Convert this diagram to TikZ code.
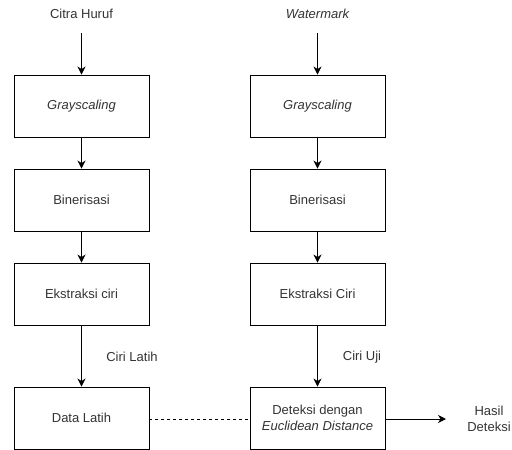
\documentclass[tikz,border=0pt]{standalone}
\usepackage{fontspec}
\setmainfont{Liberation Sans}
\usetikzlibrary{arrows.meta}
\definecolor{txtgray}{RGB}{51,51,51}
\tikzset{
  procbox/.style={draw=black, line width=0.9pt, minimum width=135pt, minimum height=62pt,
    inner sep=0pt, text=txtgray, font=\fontsize{13}{16}\selectfont, align=center},
  lbl/.style={text=txtgray, font=\fontsize{13}{16}\selectfont, align=center, inner sep=0pt},
  flow/.style={draw=black, line width=0.9pt, -{Stealth[length=8pt,width=8pt,inset=2.5pt]}},
  link/.style={draw=black, line width=0.9pt, dash pattern=on 3pt off 3pt}
}
\begin{document}
\begin{tikzpicture}[x=1pt,y=-1pt]
  \useasboundingbox (0,0) rectangle (512,450);

  % left column
  \node[lbl] (inL) at (81.5,14) {Citra Huruf};
  \coordinate (inLs) at (81.5,33);
  \node[procbox] (gL) at (81.5,106) {\itshape Grayscaling};
  \node[procbox] (bL) at (81.5,200) {Binerisasi};
  \node[procbox] (eL) at (81.5,294) {Ekstraksi ciri};
  \node[procbox] (dL) at (81.5,418) {Data Latih};
  \node[lbl] (cL) at (132,357) {Ciri Latih};

  % right column
  \node[lbl] (inR) at (317.5,14) {\itshape Watermark};
  \coordinate (inRs) at (317.5,33);
  \node[procbox] (gR) at (317.5,106) {\itshape Grayscaling};
  \node[procbox] (bR) at (317.5,200) {Binerisasi};
  \node[procbox] (eR) at (317.5,294) {Ekstraksi Ciri};
  \node[procbox] (dR) at (317.5,418) {Deteksi dengan\\\itshape Euclidean Distance};
  \node[lbl] (cR) at (362,357) {Ciri Uji};

  % result
  \node[lbl] (res) at (489,419) {Hasil\\Deteksi};
  \coordinate (resEnd) at (446,419);

  % connectors
  \draw[flow] (inLs) -- (gL);
  \draw[flow] (gL) -- (bL);
  \draw[flow] (bL) -- (eL);
  \draw[flow] (eL) -- (dL);
  \draw[flow] (inRs) -- (gR);
  \draw[flow] (gR) -- (bR);
  \draw[flow] (bR) -- (eR);
  \draw[flow] (eR) -- (dR);
  \draw[link] (dL.east |- 0,419) -- (dR.west |- 0,419);
  \draw[flow] (dR.east |- 0,419) -- (resEnd);
\end{tikzpicture}
\end{document}
